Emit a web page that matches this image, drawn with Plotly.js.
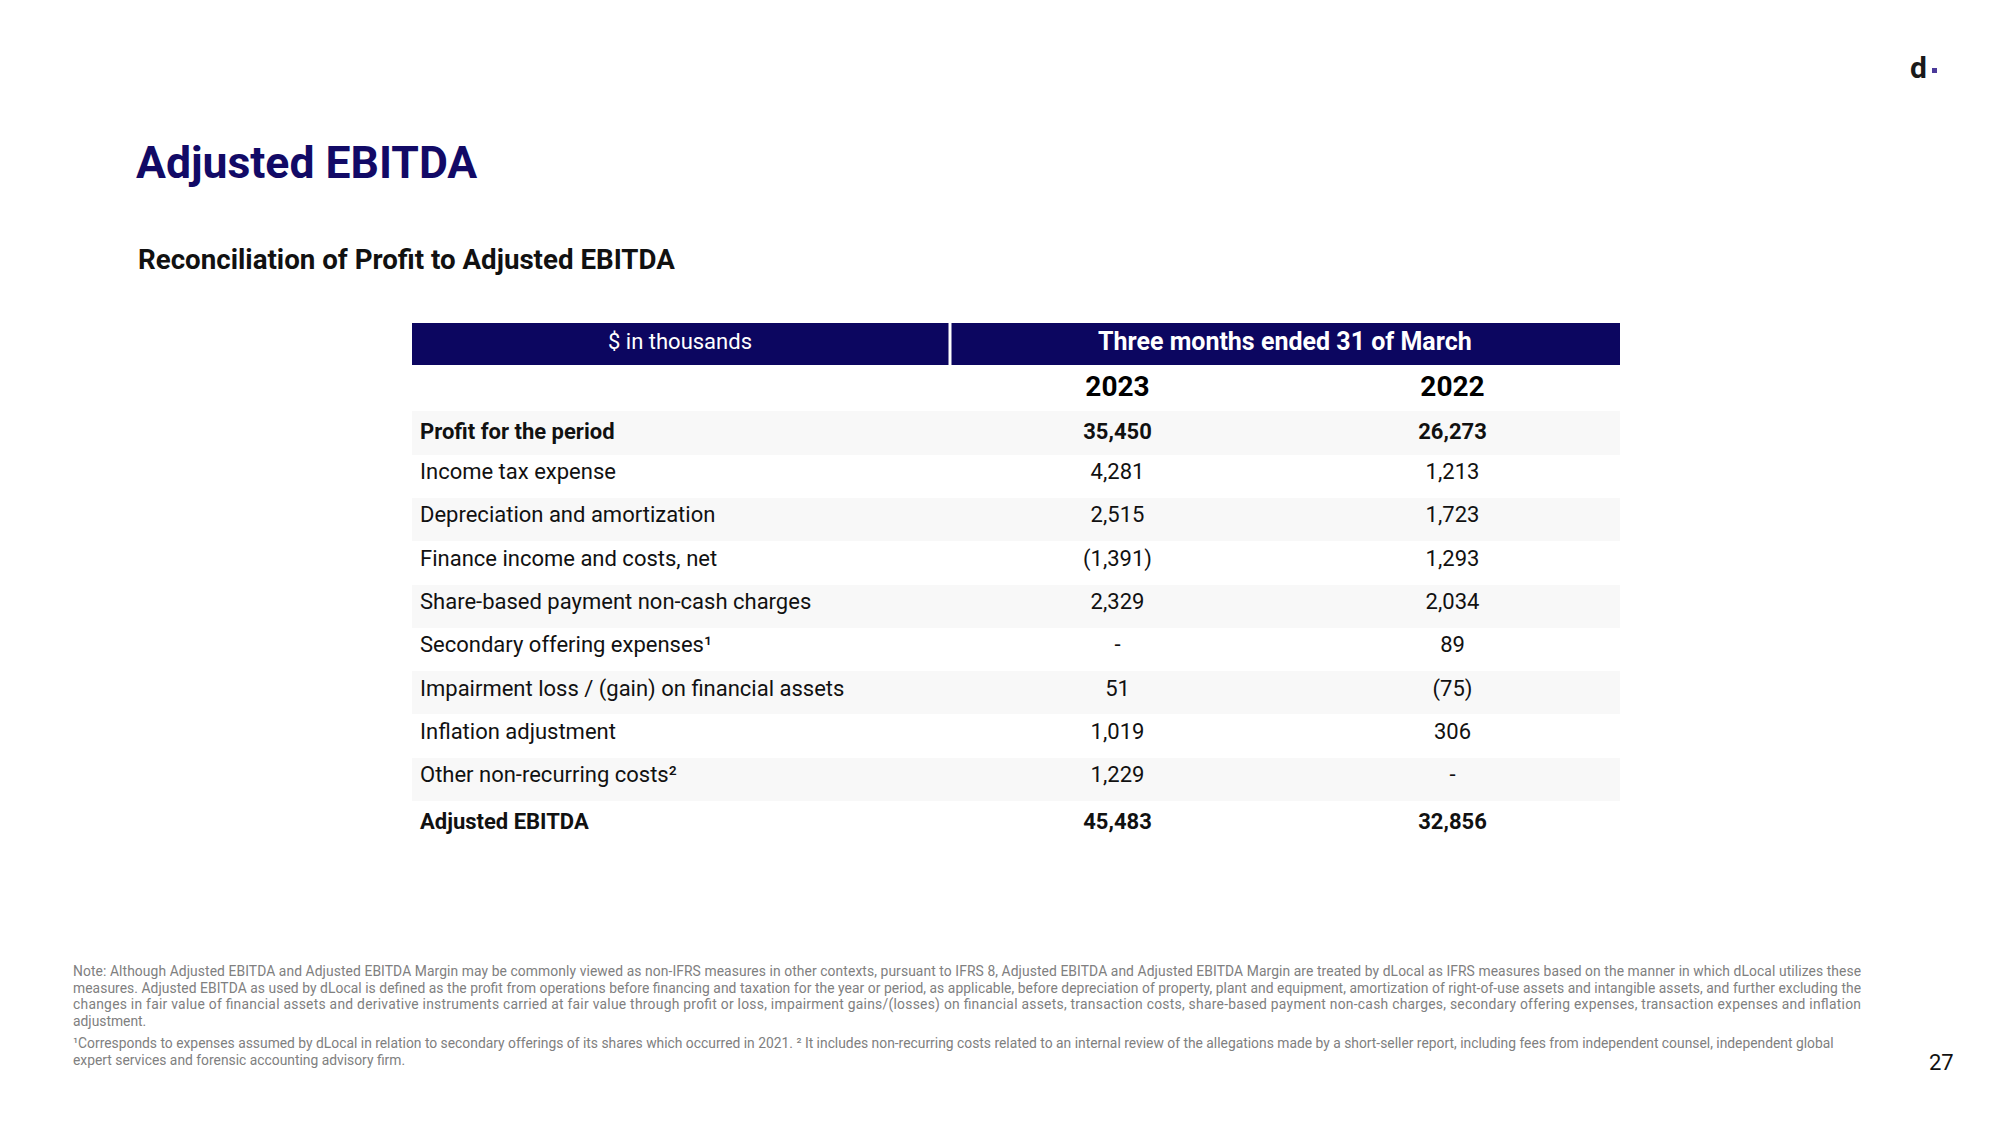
<!DOCTYPE html>
<html>
<head>
<meta charset="utf-8">
<script src="https://cdn.plot.ly/plotly-3.0.1.min.js"></script>
<style>html,body{margin:0;padding:0;background:#fff;}#chart{width:2000px;height:1125px;}</style>
</head>
<body>
<div id="chart"></div>
<script>
// ---- data ----
const headerLeft = "$ in thousands";
const headerRight = "Three months ended 31 of March";
const years = ["2023", "2022"];
const rowLabels = [
  "Profit for the period",
  "Income tax expense",
  "Depreciation and amortization",
  "Finance income and costs, net",
  "Share-based payment non-cash charges",
  "Secondary offering expenses\u00b9",
  "Impairment loss / (gain) on financial assets",
  "Inflation adjustment",
  "Other non-recurring costs\u00b2",
  "Adjusted EBITDA"
];
const values2023 = [35450, 4281, 2515, -1391, 2329, null, 51, 1019, 1229, 45483];
const values2022 = [26273, 1213, 1723, 1293, 2034, 89, -75, 306, null, 32856];
const boldRows = [0, 9];
const footnotes = [
  "Note: Although Adjusted EBITDA and Adjusted EBITDA Margin may be commonly viewed as non-IFRS measures in other contexts, pursuant to IFRS 8, Adjusted EBITDA and Adjusted EBITDA Margin are treated by dLocal as IFRS measures based on the manner in which dLocal utilizes these",
  "measures. Adjusted EBITDA as used by dLocal is defined as the profit from operations before financing and taxation for the year or period, as applicable, before depreciation of property, plant and equipment, amortization of right-of-use assets and intangible assets, and further excluding the",
  "changes in fair value of financial assets and derivative instruments carried at fair value through profit or loss, impairment gains/(losses) on financial assets, transaction costs, share-based payment non-cash charges, secondary offering expenses, transaction expenses and inflation",
  "adjustment.",
  "\u00b9Corresponds to expenses assumed by dLocal in relation to secondary offerings of its shares which occurred in 2021. \u00b2 It includes non-recurring costs related to an internal review of the allegations made by a short-seller report, including fees from independent counsel, independent global",
  "expert services and forensic accounting advisory firm."
];
const justifiedLines = [0, 1, 2];
const pageNumber = "27";

// ---- helpers ----
const W = 2000, H = 1125;
const px = x => x / W;
const py = y => 1 - y / H;
const NAVY = "#0c0660";
const FONT = "Roboto, 'Noto Sans', sans-serif";

function fmt(v) {
  if (v === null) return "-";
  const s = Math.abs(v).toLocaleString("en-US");
  return v < 0 ? "(" + s + ")" : s;
}
function b(s, i) { return boldRows.includes(i) ? "<b>" + s + "</b>" : s; }

const col0 = rowLabels.map((s, i) => b(s, i));
const col1 = values2023.map((v, i) => b(fmt(v), i));
const col2 = values2022.map((v, i) => b(fmt(v), i));
const stripe = rowLabels.map((_, i) => i % 2 === 0 ? "#f8f8f8" : "#ffffff");

const mainTable = {
  type: "table",
  domain: {x: [px(412), px(1620)], y: [py(880), py(362)]},
  columnwidth: [538, 335, 335],
  header: {
    values: ["", "<b>" + years[0] + "</b>", "<b>" + years[1] + "</b>"],
    align: ["left", "center", "center"],
    height: 49.3,
    fill: {color: "rgba(255,255,255,0)"},
    line: {color: "rgba(255,255,255,0)", width: 1},
    font: {family: FONT, size: 28, color: "#000000"}
  },
  cells: {
    values: [col0, col1, col2],
    align: ["left", "center", "center"],
    height: 43.3,
    fill: {color: [stripe, stripe, stripe]},
    line: {color: "rgba(255,255,255,0)", width: 1},
    font: {family: FONT, size: 22, color: "#111111"}
  }
};

const annotations = [
  {text: "<b>Adjusted EBITDA</b>", x: px(134), y: py(163), xanchor: "left", yanchor: "middle",
   font: {family: FONT, size: 44.5, color: "#120a66"}},
  {text: "<b>Reconciliation of Profit to Adjusted EBITDA</b>", x: px(136), y: py(260), xanchor: "left", yanchor: "middle",
   font: {family: FONT, size: 27.7, color: "#111111"}},
  {text: headerLeft, x: px(680), y: py(341), xanchor: "center", yanchor: "middle",
   font: {family: FONT, size: 22, color: "#ffffff"}},
  {text: "<b>" + headerRight + "</b>", x: px(1285), y: py(341), xanchor: "center", yanchor: "middle",
   font: {family: FONT, size: 25, color: "#ffffff"}},
  {text: pageNumber, x: px(1941), y: py(1062), xanchor: "center", yanchor: "middle",
   font: {family: FONT, size: 22, color: "#111111"}},
  {text: "<b>d</b>", x: px(1918), y: py(67), xanchor: "center", yanchor: "middle",
   font: {family: FONT, size: 30, color: "#1a1a1a"}}
];
const lineY = [971, 987.5, 1004, 1020.5, 1043, 1059.5];
footnotes.forEach((t, i) => {
  annotations.push({text: t, x: px(71), y: py(lineY[i]), xanchor: "left", yanchor: "middle", align: "left",
    font: {family: FONT, size: 13.85, color: "#808080"}, name: "fn" + i});
});
annotations.forEach(a => { a.xref = "paper"; a.yref = "paper"; a.showarrow = false; });

const shapes = [
  {type: "rect", xref: "paper", yref: "paper", x0: px(412), x1: px(948.5), y0: py(365), y1: py(323),
   fillcolor: NAVY, line: {width: 0}, layer: "below"},
  {type: "rect", xref: "paper", yref: "paper", x0: px(951.5), x1: px(1620), y0: py(365), y1: py(323),
   fillcolor: NAVY, line: {width: 0}, layer: "below"},
  {type: "rect", xref: "paper", yref: "paper", x0: px(1932), x1: px(1937), y0: py(73), y1: py(68),
   fillcolor: "#4b3a9a", line: {width: 0}}
];

Plotly.newPlot("chart", [mainTable], {
  width: W, height: H,
  margin: {l: 0, r: 0, t: 0, b: 0},
  paper_bgcolor: "#ffffff",
  plot_bgcolor: "#ffffff",
  showlegend: false,
  annotations: annotations,
  shapes: shapes
}, {displayModeBar: false, staticPlot: true}).then(gd => {
  // justify the full-width footnote lines (as in the original slide)
  const texts = gd.querySelectorAll(".annotation-text");
  const nBefore = annotations.length - footnotes.length;
  justifiedLines.forEach(i => {
    const el = texts[nBefore + i];
    if (el) { el.setAttribute("textLength", 1788); el.setAttribute("lengthAdjust", "spacing"); }
  });
});
</script>
</body>
</html>
